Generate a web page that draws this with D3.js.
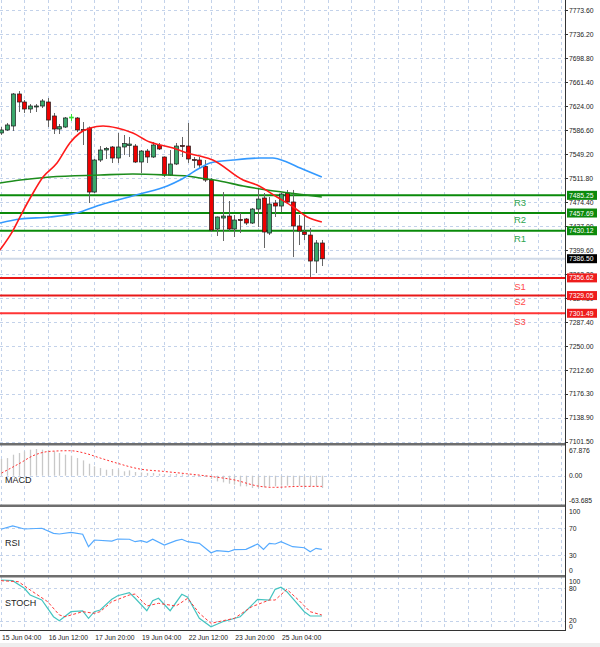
<!DOCTYPE html>
<html>
<head>
<meta charset="utf-8">
<script src="https://cdn.jsdelivr.net/npm/d3@7.9.0/dist/d3.min.js"></script>
<style>
  body { margin: 0; background: #fff; }
  svg { display: block; font-family: "Liberation Sans", Arial, sans-serif; }
</style>
</head>
<body>
<svg id="chart" width="600" height="647"></svg>
<script>
// H4 candles, bar index 0 = 15 Jun 04:00
const barOpen = [7582.4, 7587.1, 7593.3, 7643.2, 7630.7, 7619.8, 7623.7, 7624.5, 7630.7, 7608.9,
  7588.6, 7591.7, 7607.3, 7605.8, 7587.8, 7590.2, 7490.4, 7540.3, 7555.9, 7560.6,
  7543.4, 7560.6, 7562.9, 7562.1, 7537.2, 7554.3, 7545.0, 7562.9, 7545.0, 7516.9,
  7534.1, 7562.9, 7562.1, 7541.1, 7540.3, 7530.2, 7509.1, 7432.8, 7449.9, 7453.0,
  7432.8, 7447.6, 7448.4, 7442.1, 7463.9, 7481.1, 7426.5, 7473.3, 7468.6, 7488.9,
  7474.9, 7437.5, 7428.1, 7423.4, 7382.9, 7411.0];
const barHigh = [7591.7, 7598.0, 7644.7, 7647.8, 7633.8, 7627.6, 7627.6, 7635.4, 7636.9, 7613.6,
  7596.4, 7607.3, 7612.0, 7607.3, 7599.5, 7592.5, 7541.9, 7562.1, 7560.6, 7562.1,
  7582.4, 7579.3, 7576.2, 7565.2, 7555.9, 7557.5, 7568.4, 7566.8, 7545.8, 7555.9,
  7566.8, 7576.2, 7598.0, 7545.0, 7545.0, 7540.3, 7512.3, 7452.3, 7490.4, 7476.4,
  7454.6, 7457.7, 7449.9, 7465.5, 7496.7, 7488.9, 7482.6, 7478.0, 7488.9, 7493.6,
  7493.6, 7454.6, 7454.6, 7434.3, 7415.6, 7415.6];
const barLow = [7579.3, 7585.5, 7585.5, 7615.1, 7613.6, 7613.6, 7615.1, 7621.3, 7591.7, 7580.8,
  7580.8, 7590.2, 7601.1, 7583.9, 7563.7, 7473.3, 7488.9, 7537.2, 7541.9, 7535.6,
  7535.6, 7548.1, 7545.0, 7535.6, 7520.0, 7535.6, 7543.4, 7555.9, 7513.8, 7515.4,
  7532.5, 7545.0, 7535.6, 7527.8, 7527.8, 7506.0, 7428.1, 7421.9, 7414.1, 7429.7,
  7420.3, 7426.5, 7439.0, 7440.6, 7435.9, 7403.2, 7423.4, 7451.5, 7459.3, 7473.3,
  7389.1, 7407.8, 7415.6, 7358.0, 7364.2, 7375.1];
const barClose = [7587.1, 7594.9, 7643.2, 7630.7, 7619.8, 7624.5, 7624.5, 7632.3, 7602.6, 7588.6,
  7592.2, 7605.8, 7607.3, 7587.1, 7587.1, 7490.4, 7540.3, 7555.9, 7558.2, 7543.4,
  7560.6, 7566.0, 7565.2, 7537.2, 7554.3, 7545.0, 7563.7, 7557.5, 7516.9, 7534.1,
  7562.1, 7562.1, 7541.9, 7539.5, 7532.5, 7509.1, 7431.2, 7451.5, 7453.0, 7432.8,
  7446.8, 7446.8, 7442.1, 7463.9, 7479.5, 7428.1, 7471.7, 7468.6, 7487.3, 7474.9,
  7437.5, 7429.7, 7424.2, 7382.9, 7411.0, 7386.5];

// moving averages (bar index, price)
const maRedIdx = [-0.2, 2.1, 3.6, 5.3, 7.2, 9.6, 11.8, 13.5, 15.3, 17.5, 19.9, 22.6, 25.5, 27.3, 29.5, 31.9, 34.1, 36.3, 41.5, 43.9, 47.3, 50.1, 52.5, 55];
const maRedVal = [7400.0, 7431.2, 7457.7, 7485.8, 7513.8, 7535.6, 7566.8, 7582.4, 7590.2, 7593.3, 7590.2, 7582.4, 7568.4, 7563.7, 7559.0, 7551.2, 7546.5, 7540.3, 7509.1, 7501.3, 7482.6, 7467.1, 7451.5, 7443.7];
const maGreenIdx = [-0.2, 3.3, 8.4, 17, 22.6, 28.5, 31.9, 34.1, 37.5, 41.5, 45.6, 49.5, 55];
const maGreenVal = [7504.4, 7509.1, 7513.8, 7516.9, 7518.5, 7516.9, 7515.4, 7512.3, 7507.6, 7499.8, 7493.6, 7488.9, 7482.6];
const maBlueIdx = [-0.2, 3.3, 8.4, 13, 17, 23.8, 28.5, 30.7, 34.1, 35.8, 39.8, 44.4, 46.6, 49, 51.3, 55];
const maBlueVal = [7442.1, 7448.4, 7451.5, 7457.7, 7470.2, 7487.3, 7499.8, 7509.1, 7527.8, 7535.6, 7540.3, 7543.4, 7543.4, 7537.2, 7527.8, 7513.8];

const levelNames = ["R3", "R2", "R1", "S1", "S2", "S3"];
const levelValues = [7485.25, 7457.69, 7430.12, 7356.62, 7329.05, 7301.49];
const lastPrice = 7386.50;

const priceTicks = [7773.60, 7736.20, 7698.80, 7661.40, 7624.00, 7586.60, 7549.20, 7511.80, 7474.40,
  7437.00, 7399.60, 7362.20, 7324.80, 7287.40, 7250.00, 7212.60, 7176.30, 7138.90, 7101.50];
const timeLabels = ["15 Jun 04:00", "16 Jun 12:00", "17 Jun 20:00", "19 Jun 04:00", "22 Jun 12:00", "23 Jun 20:00", "25 Jun 04:00"];

const macdHist = [38.8, 41.0, 48.8, 52.7, 56.6, 60.4, 62.0, 60.4, 58.9, 56.6,
  52.7, 48.8, 46.5, 41.0, 35.6, 27.9, 21.7, 17.8, 13.9, 15.5,
  13.9, 10.1, 12.4, 8.5, 7.7, 6.2, 6.2, 4.6, 3.1, 3.1,
  3.9, 3.1, 2.3, 1.5, 0.8, -1.5, -7.7, -13.2, -15.5, -18.6,
  -20.9, -24.8, -24.8, -28.7, -28.7, -27.1, -24.8, -24.8, -23.2, -23.2,
  -23.2, -23.2, -24.8, -24.8, -24.8, -28.7];
const macdSigIdx = [0.1, 3.3, 5.5, 8.4, 11.8, 14.7, 17, 19.8, 23.8, 27.8, 31.8, 35.8, 39.8, 44.4, 46.7, 51.3, 55];
const macdSigVal = [6.2, 29.5, 46.5, 56.6, 58.1, 51.1, 41.1, 29.5, 15.5, 10.1, 4.6, -1.5, -9.3, -24.8, -27.1, -24.8, -24.8];

const rsiIdx = [0, 2, 4, 7, 9, 10, 12, 14, 15, 16, 19, 20, 22, 23, 24, 25, 26, 28, 30, 31, 32, 34, 36, 37, 39, 40, 42, 44, 45, 46, 47, 48, 50, 52, 53, 54, 55];
const rsiVal = [68.1, 73.0, 68.5, 69.6, 62.1, 61.1, 63.6, 60.7, 42.3, 52.2, 50.7, 53.7, 53.3, 49.7, 51.2, 48.8, 53.3, 44.8, 51.2, 53.3, 49.7, 47.3, 33.4, 36.4, 34.9, 37.9, 38.4, 46.3, 38.4, 47.3, 46.3, 49.7, 42.3, 40.8, 34.9, 39.9, 38.4];

const stoMainIdx = [0, 2, 4, 5, 7, 9, 10, 12, 14, 15, 16, 17, 19, 20, 22, 23, 25, 26, 27, 29, 31, 32, 34, 36, 38, 41, 44, 46, 47, 48, 49, 52, 53, 55];
const stoMainVal = [95.4, 94.1, 80.0, 67.6, 58.3, 27.4, 20.0, 36.7, 38.0, 24.4, 36.7, 39.8, 59.6, 66.3, 71.9, 61.5, 38.5, 57.0, 61.5, 38.5, 68.9, 63.3, 24.4, 8.9, 18.1, 27.4, 59.6, 58.3, 78.1, 81.9, 73.7, 36.7, 28.7, 28.7];
const stoSigIdx = [0, 3, 5, 8, 10, 11, 14, 16, 17, 19, 22, 23, 25, 27, 30, 32, 34, 36, 40, 43, 46, 47, 49, 51, 53, 55];
const stoSigVal = [94.1, 92.2, 76.9, 55.2, 30.6, 27.4, 36.7, 33.7, 36.7, 55.2, 67.6, 69.4, 47.2, 52.2, 47.2, 61.5, 33.7, 15.2, 24.4, 45.9, 58.3, 58.3, 78.1, 58.3, 36.7, 30.6];

const svg = d3.select("#chart");
const plotRight = 565;
const gridColor = "#c3d2ea";

const x = d3.scaleLinear().domain([0, 96]).range([1, 561]);
const y = d3.scaleLinear().domain([7101.5, 7773.6]).range([441.6, 10.3]);
const yMacd = d3.scaleLinear().domain([-63.685, 67.876]).range([503.1, 446.5]);
const yRsi = d3.scaleLinear().domain([0, 100]).range([575.25, 507.75]);
const ySto = d3.scaleLinear().domain([0, 100]).range([631.5, 577.5]);

svg.append("rect").attr("width", 600).attr("height", 647).attr("fill", "#fff");
svg.append("rect").attr("y", 643).attr("width", 600).attr("height", 4).attr("fill", "#eeeeee");

const defs = svg.append("defs");
defs.append("clipPath").attr("id", "mainClip")
  .append("rect").attr("x", 0).attr("y", 0).attr("width", plotRight).attr("height", 443);

// grid
const grid = svg.append("g").attr("stroke", gridColor).attr("stroke-dasharray", "3,3").attr("stroke-width", 1);
grid.selectAll("line.v")
  .data(d3.range(0, 97, 4))
  .enter().append("line")
  .attr("x1", (d) => Math.round(x(d)) + 0.5).attr("x2", (d) => Math.round(x(d)) + 0.5)
  .attr("y1", 0).attr("y2", 631);
grid.selectAll("line.h")
  .data(priceTicks)
  .enter().append("line")
  .attr("x1", 0).attr("x2", plotRight)
  .attr("y1", (d) => Math.round(y(d)) + 0.5).attr("y2", (d) => Math.round(y(d)) + 0.5);
[[yMacd, 0], [yRsi, 70], [yRsi, 30], [ySto, 80], [ySto, 20]].forEach(([sc, v]) => {
  grid.append("line").attr("x1", 0).attr("x2", plotRight)
    .attr("y1", Math.round(sc(v)) + 0.5).attr("y2", Math.round(sc(v)) + 0.5);
});

const main = svg.append("g").attr("clip-path", "url(#mainClip)");

// current price line
main.append("line").attr("x1", 0).attr("x2", plotRight)
  .attr("y1", y(lastPrice)).attr("y2", y(lastPrice))
  .attr("stroke", "#d0dae8").attr("stroke-width", 2);

// support / resistance
main.selectAll("line.lvl")
  .data(levelValues)
  .enter().append("line")
  .attr("x1", 0).attr("x2", plotRight)
  .attr("y1", (d) => y(d)).attr("y2", (d) => y(d))
  .attr("stroke", (d, i) => (i < 3 ? "#0a8a0a" : (i === 5 ? "#ff3535" : "#e81818")))
  .attr("stroke-width", 2);

svg.selectAll("text.lvl")
  .data(levelNames)
  .enter().append("text")
  .attr("x", 520).attr("y", (d, i) => y(levelValues[i]) + [11, 10, 11, 12, 9, 12][i])
  .attr("text-anchor", "middle")
  .attr("font-size", 9.5)
  .attr("fill", (d, i) => (i < 3 ? "#2ea44f" : "#ff4a4a"))
  .text((d) => d);

// candles
const bars = barOpen.map((o, i) => ({ i, o, h: barHigh[i], l: barLow[i], c: barClose[i] }));
const candle = main.selectAll("g.candle").data(bars).enter().append("g");
candle.append("line")
  .attr("x1", (d) => Math.round(x(d.i)) + 0.5).attr("x2", (d) => Math.round(x(d.i)) + 0.5)
  .attr("y1", (d) => y(d.h)).attr("y2", (d) => y(d.l))
  .attr("stroke", (d) => (d.o === d.c ? "#33e033" : "#666"))
  .attr("stroke-width", 1);
candle.append("rect")
  .attr("x", (d) => Math.round(x(d.i)) - 1.5)
  .attr("width", 4)
  .attr("y", (d) => y(Math.max(d.o, d.c)))
  .attr("height", (d) => Math.max(1, Math.abs(y(d.o) - y(d.c))))
  .attr("fill", (d) => (d.c > d.o ? "#3aa86b" : d.c < d.o ? "#ee0000" : "#33e033"))
  .attr("stroke", (d) => (d.o === d.c ? "#33e033" : "#1c1c1c"))
  .attr("stroke-width", 0.7);

// moving averages
const maLine = d3.line().x((d) => x(d[0])).y((d) => y(d[1])).curve(d3.curveMonotoneX);
[[maGreenIdx, maGreenVal, "#1c8c1c"], [maBlueIdx, maBlueVal, "#3399ff"], [maRedIdx, maRedVal, "#ff1a1a"]]
  .forEach(([idx, val, col]) => {
    main.append("path")
      .attr("d", maLine(idx.map((d, k) => [d, val[k]])))
      .attr("fill", "none").attr("stroke", col).attr("stroke-width", 1.6);
  });

// MACD
svg.selectAll("line.hist")
  .data(macdHist)
  .enter().append("line")
  .attr("x1", (d, i) => Math.round(x(i)) + 0.5).attr("x2", (d, i) => Math.round(x(i)) + 0.5)
  .attr("y1", yMacd(0)).attr("y2", (d) => yMacd(d))
  .attr("stroke", "#c8c8c8").attr("stroke-width", 1.3);
svg.append("path")
  .attr("d", d3.line().x((d) => x(d[0])).y((d) => yMacd(d[1])).curve(d3.curveMonotoneX)(macdSigIdx.map((d, k) => [d, macdSigVal[k]])))
  .attr("fill", "none").attr("stroke", "#ff3030").attr("stroke-width", 1).attr("stroke-dasharray", "2,2");

// RSI
svg.append("path")
  .attr("d", d3.line().x((d) => x(d[0])).y((d) => yRsi(d[1]))(rsiIdx.map((d, k) => [d, rsiVal[k]])))
  .attr("fill", "none").attr("stroke", "#55aaff").attr("stroke-width", 1.2);

// Stochastic
svg.append("path")
  .attr("d", d3.line().x((d) => x(d[0])).y((d) => ySto(d[1]))(stoMainIdx.map((d, k) => [d, stoMainVal[k]])))
  .attr("fill", "none").attr("stroke", "#45c4c0").attr("stroke-width", 1.2);
svg.append("path")
  .attr("d", d3.line().x((d) => x(d[0])).y((d) => ySto(d[1]))(stoSigIdx.map((d, k) => [d, stoSigVal[k]])))
  .attr("fill", "none").attr("stroke", "#ff3a3a").attr("stroke-width", 1).attr("stroke-dasharray", "3,2");

// panel separators
[443, 504.5, 575].forEach((sy) => {
  svg.append("rect").attr("x", 0).attr("y", sy).attr("width", plotRight + 1).attr("height", 2.5).attr("fill", "#6e6e6e");
});
svg.append("line").attr("x1", 0).attr("x2", plotRight + 1).attr("y1", 630.5).attr("y2", 630.5).attr("stroke", "#333");
svg.append("line").attr("x1", plotRight + 0.5).attr("x2", plotRight + 0.5).attr("y1", 0).attr("y2", 631).attr("stroke", "#333");

// right-hand scale labels
const axisText = svg.append("g").attr("font-size", 6.8).attr("fill", "#222");
axisText.selectAll("text.p")
  .data(priceTicks)
  .enter().append("text")
  .attr("x", 569).attr("y", (d) => y(d) + 2.5)
  .text((d) => d.toFixed(2));
svg.selectAll("line.tick")
  .data(priceTicks)
  .enter().append("line")
  .attr("x1", plotRight).attr("x2", plotRight + 3)
  .attr("y1", (d) => Math.round(y(d)) + 0.5).attr("y2", (d) => Math.round(y(d)) + 0.5)
  .attr("stroke", "#333");

[[yMacd(67.876) + 6, "67.876"], [yMacd(0) + 2.5, "0.00"], [yMacd(-63.685) - 0.5, "-63.685"],
 [yRsi(100) + 6, "100"], [yRsi(70) + 2.5, "70"], [yRsi(30) + 2.5, "30"], [yRsi(0) - 2.5, "0"],
 [ySto(100) + 6, "100"], [ySto(80) + 3, "80"], [ySto(20) + 2.5, "20"], [ySto(0) - 2.5, "0"]]
  .forEach(([ty, t]) => axisText.append("text").attr("x", 569).attr("y", ty).text(t));

// price boxes on the scale
const boxes = levelValues.map((v, i) => ({ v, fill: i < 3 ? "#0c8a0c" : "#ee1c1c" }))
  .concat([{ v: lastPrice, fill: "#000" }]);
const box = svg.selectAll("g.box").data(boxes).enter().append("g");
box.append("rect")
  .attr("x", 567).attr("y", (d) => y(d.v) - 4.5)
  .attr("width", 30).attr("height", 9)
  .attr("fill", (d) => d.fill);
box.append("text")
  .attr("x", 569).attr("y", (d) => y(d.v) + 2.5)
  .attr("font-size", 6.8).attr("fill", "#fff")
  .text((d) => d.v.toFixed(2));

// indicator names
[["MACD", 483], ["RSI", 546], ["STOCH", 606]].forEach(([t, ty]) => {
  svg.append("text").attr("x", 5).attr("y", ty).attr("font-size", 9).attr("fill", "#222").text(t);
});

// time axis
svg.selectAll("text.time")
  .data(timeLabels)
  .enter().append("text")
  .attr("x", (d, i) => x(i * 8) + 1).attr("y", 640)
  .attr("font-size", 6.8).attr("fill", "#222")
  .text((d) => d);
</script>
</body>
</html>
